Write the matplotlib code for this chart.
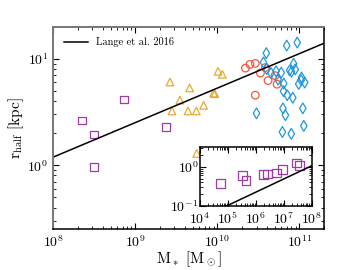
import numpy as np
import matplotlib
matplotlib.use("Agg")
import matplotlib.pyplot as plt
from matplotlib.ticker import LogLocator, NullFormatter

plt.rcParams['font.family'] = 'serif'
plt.rcParams['font.serif'] = ['cmr10']
plt.rcParams['mathtext.fontset'] = 'cm'
plt.rcParams['axes.formatter.use_mathtext'] = True

# --- data ---
# dwarfs (squares)
sq_mass = [2.25e8, 3.15e8, 3.15e8, 7.3e8, 2.37e9]
sq_r = [2.62, 1.94, 0.96, 4.15, 2.29]

# triangles
tri_mass = [2.65e9, 2.8e9, 3.5e9, 4.4e9, 4.6e9, 5.55e9, 6.8e9, 9.0e9, 9.3e9,
            1.02e10, 1.15e10, 5.6e9]
tri_r = [6.05, 3.23, 4.09, 3.23, 5.32, 3.23, 3.65, 4.75, 4.7, 7.62, 7.14, 1.29]

# circles
circ_mass = [2.2e10, 2.5e10, 2.9e10, 2.9e10, 3.35e10, 3.85e10, 4.15e10,
             5.05e10, 5.35e10]
circ_r = [8.17, 8.85, 9.04, 4.55, 7.35, 8.27, 6.24, 6.94, 5.77]

# diamonds
dia_mass = [3.95e10, 3.0e10, 3.65e10, 4.0e10, 4.5e10, 5.2e10, 6.0e10, 5.5e10,
            6.45e10, 6.4e10, 7.1e10, 6.3e10, 6.75e10, 6.2e10, 7.95e10, 7.0e10,
            9.4e10, 8.3e10, 7.6e10, 8.5e10, 8.9e10, 8.0e10, 9.8e10, 1.06e11,
            1.05e11, 1.16e11, 1.1e11, 1.13e11]
dia_r = [11.3, 3.07, 9.24, 8.0, 7.35, 7.62, 7.41, 6.37, 5.85, 4.96, 4.55, 3.42,
         2.95, 2.05, 1.97, 13.3, 14.2, 4.3, 7.78, 8.98, 7.94, 7.57, 5.8, 6.66,
         6.28, 5.98, 3.42, 2.34]

# Lange et al. 2016 relation (end points)
lange_mass = [1e8, 2e11]
lange_r = [1.19, 14.0]

# inset: faint dwarfs
in_mass = [5.5e4, 3.3e5, 4.4e5, 1.86e6, 2.63e6, 5.4e6, 8.9e6, 2.8e7, 3.6e7]
in_r = [0.37, 0.60, 0.45, 0.64, 0.66, 0.69, 0.84, 1.24, 1.06]
in_line_mass = [1e4, 1e8]
in_line_r = [0.048, 1.06]

c_sq = '#a03aa6'
c_tri = '#eaa934'
c_circ = '#f4573d'
c_dia = '#1f97df'


def style_axis(ax, size):
    ax.set_xscale('log')
    ax.set_yscale('log')
    ax.tick_params(which='both', direction='in', top=True, right=True,
                   labelsize=size)
    ax.tick_params(which='major', length=4, width=0.8)
    ax.tick_params(which='minor', length=2, width=0.6)
    for a in (ax.xaxis, ax.yaxis):
        a.set_major_locator(LogLocator(base=10, numticks=20))
        a.set_minor_locator(LogLocator(base=10, subs=np.arange(2, 10), numticks=20))
        a.set_minor_formatter(NullFormatter())


fig = plt.figure(figsize=(3.43, 2.70), dpi=100)
ax = fig.add_axes([0.155, 0.151, 0.790, 0.750])
style_axis(ax, 10)

mk = dict(facecolors='none', linewidths=0.9, s=30)
ax.plot(lange_mass, lange_r, color='k', lw=1.1, label='Lange et al. 2016')
ax.scatter(sq_mass, sq_r, marker='s', edgecolors=c_sq, **mk)
ax.scatter(tri_mass, tri_r, marker='^', edgecolors=c_tri, **mk)
ax.scatter(circ_mass, circ_r, marker='o', edgecolors=c_circ, **mk)
ax.scatter(dia_mass, dia_r, marker='d', edgecolors=c_dia, **mk)

ax.set_xlim(1e8, 2e11)
ax.set_ylim(0.25, 20)
ax.set_xlabel(r'$\mathrm{M_*\ [M_\odot]}$', fontsize=11, labelpad=0)
ax.set_ylabel(r'$\mathrm{r_{half}\ [kpc]}$', fontsize=11, labelpad=1)
ax.legend(loc='upper left', frameon=False, fontsize=7.5, handlelength=2.3,
          borderaxespad=0.6)

for side in ['left', 'top']:
    ax.spines[side].set_color('#777777')
    ax.spines[side].set_linewidth(1.4)
for side in ['right', 'bottom']:
    ax.spines[side].set_color('black')
    ax.spines[side].set_linewidth(1.1)

# --- inset ---
axin = fig.add_axes([0.583, 0.237, 0.326, 0.217])
style_axis(axin, 10)
axin.plot(in_line_mass, in_line_r, color='k', lw=1.1)
axin.scatter(in_mass, in_r, marker='s', edgecolors=c_sq, facecolors='none',
             linewidths=0.9, s=38)
axin.set_xlim(1e4, 1e8)
axin.set_ylim(0.1, 3.1)
axin.tick_params(axis='x', pad=3.5)
axin.tick_params(axis='y', pad=1)
for side in axin.spines:
    axin.spines[side].set_linewidth(1.1)

fig.savefig('out.png', dpi=100)
